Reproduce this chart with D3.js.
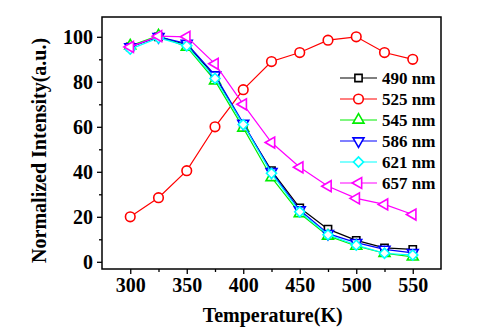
<!DOCTYPE html>
<html>
<head>
<meta charset="utf-8">
<script src="https://cdn.jsdelivr.net/npm/d3@7"></script>
<style>
  body { margin: 0; background: #fff; }
  svg text { font-family: "Liberation Serif", "Times New Roman", Times, Tinos, "DejaVu Serif", serif !important; font-weight: bold; }
</style>
</head>
<body>
<div class="chart"></div>
<script>
// temperatures (K) and normalized intensities per emission wavelength
var temps = [300, 325, 350, 375, 400, 425, 450, 475, 500, 525, 550];
var i490 = [95.5, 100, 96.5, 82.5, 61, 40.5, 24, 14.5, 9.5, 6.2, 5.5];
var i525 = [20, 28.5, 40.5, 60, 76.5, 89, 93, 98.5, 100, 93, 90];
var i545 = [96, 100.5, 95.5, 80.5, 59.5, 37.5, 21.5, 11.5, 7, 3.8, 2.2];
var i586 = [95.5, 100, 97, 83, 61.5, 40, 23, 12.5, 8.5, 5.5, 4];
var i621 = [94.5, 99.5, 96, 81.5, 61, 39.3, 22.2, 12, 7.4, 3.8, 3];
var i657 = [95.5, 100.3, 100, 88, 70, 53, 42, 33.6, 28.2, 25.5, 21];

var seriesNames = ["490 nm", "525 nm", "545 nm", "586 nm", "621 nm", "657 nm"];
var xTicks = [300, 350, 400, 450, 500, 550];
var xMinor = [325, 375, 425, 475, 525];
var yTicks = [0, 20, 40, 60, 80, 100];
var yMinor = [10, 30, 50, 70, 90];

var series = [
  {name: seriesNames[0], values: i490, color: "#000000", shape: "square"},
  {name: seriesNames[1], values: i525, color: "#ff0000", shape: "circle"},
  {name: seriesNames[2], values: i545, color: "#00ee00", shape: "up"},
  {name: seriesNames[3], values: i586, color: "#0000ff", shape: "down"},
  {name: seriesNames[4], values: i621, color: "#00ffff", shape: "diamond"},
  {name: seriesNames[5], values: i657, color: "#ff00ff", shape: "left"}
];

var serif = "'Liberation Serif', 'Times New Roman', Times, Tinos, 'DejaVu Serif', serif";

var margin = {top: 17, right: 43, bottom: 67, left: 102};
var width = 484 - margin.left - margin.right;
var height = 336 - margin.top - margin.bottom;

var x = d3.scaleLinear().domain([275, 575]).range([0, width]);
var y = d3.scaleLinear().domain([-3.2, 108.8]).range([height, 0]);

var svg = d3.select(".chart")
  .append("svg")
  .attr("width", 484)
  .attr("height", 336)
  .attr("font-family", serif)
  .append("g")
  .attr("transform", "translate(" + margin.left + "," + margin.top + ")");

// marker shapes
function markerPath(shape) {
  if (shape === "square") return d3.symbol().type(d3.symbolSquare).size(52)();
  if (shape === "circle") return d3.symbol().type(d3.symbolCircle).size(72)();
  if (shape === "diamond") return d3.symbol().type(d3.symbolSquare).size(50)();
  return d3.symbol().type(d3.symbolTriangle).size(52)();
}
function markerRotate(shape) {
  if (shape === "down") return 180;
  if (shape === "left") return -90;
  if (shape === "diamond") return 45;
  return 0;
}

// axes
svg.append("g")
  .attr("class", "axis")
  .attr("transform", "translate(0," + height + ")")
  .call(d3.axisBottom(x).tickValues(xTicks).tickSize(5).tickSizeOuter(0).tickPadding(4))
  .call(function(g) { g.select(".domain").remove(); });

svg.append("g")
  .attr("transform", "translate(0," + height + ")")
  .call(d3.axisBottom(x).tickValues(xMinor).tickSize(3).tickFormat(""))
  .call(function(g) { g.select(".domain").remove(); });

svg.append("g")
  .attr("class", "axis")
  .call(d3.axisLeft(y).tickValues(yTicks).tickSize(5).tickSizeOuter(0).tickPadding(4))
  .call(function(g) { g.select(".domain").remove(); });

svg.append("g")
  .call(d3.axisLeft(y).tickValues(yMinor).tickSize(3).tickFormat(""))
  .call(function(g) { g.select(".domain").remove(); });

svg.selectAll(".axis").attr("font-family", serif);
svg.selectAll(".tick line").attr("stroke", "#000").attr("stroke-width", 1.3);
svg.selectAll(".axis text")
  .style("font-size", "20px")
  .attr("fill", "#000");

// frame
svg.append("rect")
  .attr("x", 0)
  .attr("y", 0)
  .attr("width", width)
  .attr("height", height)
  .attr("fill", "none")
  .attr("stroke", "#000")
  .attr("stroke-width", 1.5);

// axis titles
svg.append("text")
  .attr("x", x(426))
  .attr("y", height + 53)
  .attr("text-anchor", "middle")
  .style("font-size", "20px")
  .text("Temperature(K)");

svg.append("text")
  .attr("transform", "rotate(-90)")
  .attr("x", -(y(49.5)))
  .attr("y", 46 - margin.left)
  .attr("text-anchor", "middle")
  .style("font-size", "20px")
  .text("Normalized Intensity(a.u.)");

// lines and markers
var line = d3.line()
  .x(function(d, i) { return x(temps[i]); })
  .y(function(d) { return y(d); });

series.forEach(function(s) {
  svg.append("path")
    .datum(s.values)
    .attr("d", line)
    .attr("fill", "none")
    .attr("stroke", s.color)
    .attr("stroke-width", 1.2);

  svg.selectAll(".m-" + s.shape)
    .data(s.values)
    .enter().append("path")
    .attr("class", "m-" + s.shape)
    .attr("d", markerPath(s.shape))
    .attr("transform", function(d, i) {
      return "translate(" + x(temps[i]) + "," + y(d) + ") rotate(" + markerRotate(s.shape) + ")";
    })
    .attr("fill", "#fff")
    .attr("stroke", s.color)
    .attr("stroke-width", 1.6);
});

// legend
var legend = svg.selectAll(".legend")
  .data(series)
  .enter().append("g")
  .attr("class", "legend")
  .attr("transform", function(d, i) {
    return "translate(" + (340 - margin.left) + "," + (78 - margin.top + i * 21) + ")";
  });

legend.append("line")
  .attr("x1", 0)
  .attr("x2", 37)
  .attr("stroke", function(d) { return d.color; })
  .attr("stroke-width", 1.2);

legend.append("path")
  .attr("d", function(d) { return markerPath(d.shape); })
  .attr("transform", function(d) { return "translate(18.5,0) rotate(" + markerRotate(d.shape) + ")"; })
  .attr("fill", "#fff")
  .attr("stroke", function(d) { return d.color; })
  .attr("stroke-width", 1.6);

legend.append("text")
  .attr("x", 42)
  .attr("y", 6)
  .style("font-size", "17px")
  .text(function(d) { return d.name; });
</script>
</body>
</html>
